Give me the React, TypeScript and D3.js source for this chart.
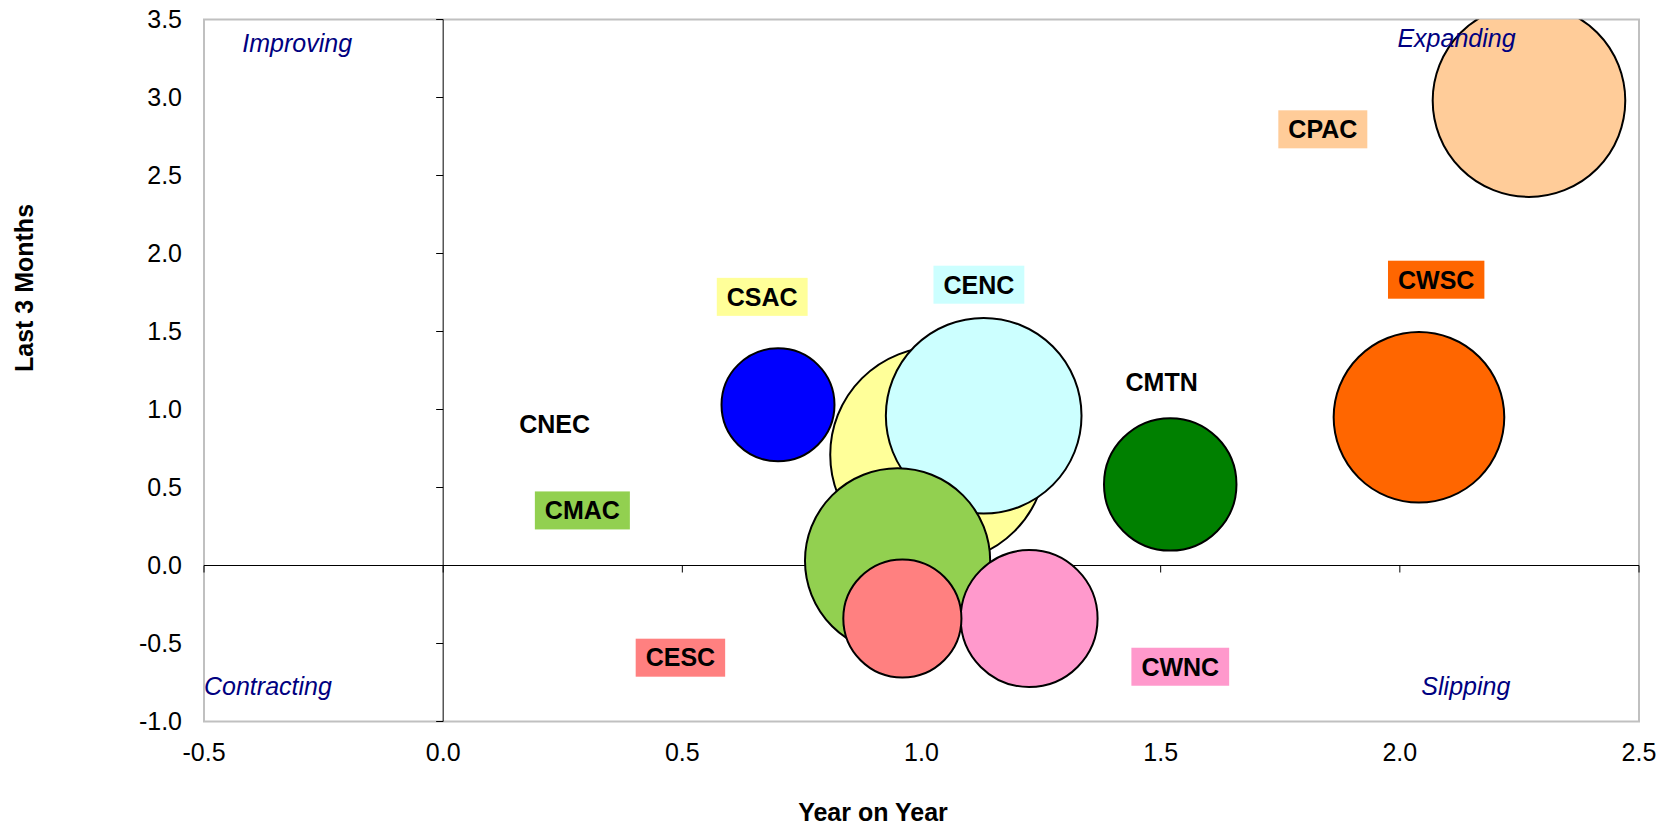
import React, { useEffect, useRef } from 'react';
import * as d3 from 'd3';

// ---- data ----
const regions = ['CNEC', 'CSAC', 'CENC', 'CMAC', 'CESC', 'CWNC', 'CPAC', 'CWSC', 'CMTN'];
const yearOnYear = [0.70, 1.035, 1.13, 0.95, 0.96, 1.225, 2.27, 2.04, 1.52];
const last3Months = [1.03, 0.71, 0.96, 0.03, -0.34, -0.34, 2.98, 0.95, 0.52];
const bubbleSize = [32, 117, 96, 86, 35, 47, 93, 73, 44];
const labelX = [0.233, 0.667, 1.12, 0.291, 0.496, 1.541, 1.839, 2.076, 1.502];
const labelY = [0.903, 1.722, 1.80, 0.353, -0.591, -0.649, 2.796, 1.832, 1.173];
const bubbleColors = ['#0000FF', '#FFFF99', '#CCFFFF', '#92D050', '#FF8080', '#FF99CC', '#FFCC99', '#FF6600', '#008000'];
const labelColors = ['none', '#FFFF99', '#CCFFFF', '#92D050', '#FF8080', '#FF99CC', '#FFCC99', '#FF6600', 'none'];
const xTicks = [-0.5, 0.0, 0.5, 1.0, 1.5, 2.0, 2.5];
const yTicks = [-1.0, -0.5, 0.0, 0.5, 1.0, 1.5, 2.0, 2.5, 3.0, 3.5];
const quadrantNames = ['Improving', 'Expanding', 'Contracting', 'Slipping'];
const quadrantX = [-0.42, 1.995, -0.5, 2.045];
const quadrantY = [3.292, 3.324, -0.83, -0.827];

const W = 1671;
const H = 826;
const FONT = '"Liberation Sans", Arial, Helvetica, sans-serif';

export default function App() {
  const ref = useRef<SVGSVGElement | null>(null);

  useEffect(() => {
    const svg = d3.select(ref.current);
    svg.selectAll('*').remove();

    const left = 204, right = 1639, top = 19.5, bottom = 721.5;
    const x = d3.scaleLinear().domain([-0.5, 2.5]).range([left, right]);
    const y = d3.scaleLinear().domain([-1, 3.5]).range([bottom, top]);
    const r = d3.scaleSqrt().domain([0, d3.max(bubbleSize) as number]).range([0, 108]);

    svg.append('rect').attr('width', W).attr('height', H).attr('fill', '#fff');

    svg.append('defs').append('clipPath').attr('id', 'plotclip')
      .append('rect').attr('x', left).attr('y', top).attr('width', right - left).attr('height', bottom - top);

    // plot border
    svg.append('rect')
      .attr('x', left).attr('y', top).attr('width', right - left).attr('height', bottom - top)
      .attr('fill', '#fff').attr('stroke', '#C0C0C0').attr('stroke-width', 2);

    // axes
    const axisG = svg.append('g');
    axisG.append('line').attr('x1', x(0)).attr('x2', x(0)).attr('y1', top).attr('y2', bottom)
      .attr('stroke', '#000').attr('stroke-width', 1);
    axisG.append('line').attr('x1', left).attr('x2', right).attr('y1', y(0)).attr('y2', y(0))
      .attr('stroke', '#000').attr('stroke-width', 1);
    yTicks.forEach(t => {
      axisG.append('line').attr('x1', x(0) - 7).attr('x2', x(0)).attr('y1', y(t)).attr('y2', y(t))
        .attr('stroke', '#000').attr('stroke-width', 1);
    });
    xTicks.forEach(t => {
      axisG.append('line').attr('x1', x(t)).attr('x2', x(t)).attr('y1', y(0)).attr('y2', y(0) + 7)
        .attr('stroke', '#000').attr('stroke-width', 1);
    });

    // bubbles (largest first)
    const idx = d3.range(regions.length).sort((a, b) => bubbleSize[b] - bubbleSize[a]);
    const bg = svg.append('g').attr('clip-path', 'url(#plotclip)');
    idx.forEach(i => {
      bg.append('circle')
        .attr('cx', x(yearOnYear[i])).attr('cy', y(last3Months[i])).attr('r', r(bubbleSize[i]))
        .attr('fill', bubbleColors[i]).attr('stroke', '#000').attr('stroke-width', 2);
    });

    // quadrant labels
    quadrantNames.forEach((q, i) => {
      svg.append('text').attr('x', x(quadrantX[i])).attr('y', y(quadrantY[i]))
        .attr('font-family', FONT).attr('font-size', 25).attr('font-style', 'italic')
        .attr('fill', '#000080').text(q);
    });

    // data labels
    regions.forEach((name, i) => {
      const cx = x(labelX[i]);
      const cy = y(labelY[i]);
      const g = svg.append('g');
      const rect = g.append('rect');
      const t = g.append('text').attr('x', cx).attr('y', cy + 8.8)
        .attr('text-anchor', 'middle').attr('font-family', FONT).attr('font-size', 25)
        .attr('font-weight', 'bold').attr('fill', '#000').text(name);
      const w = (t.node() as SVGTextElement).getComputedTextLength() + 20;
      rect.attr('x', cx - w / 2).attr('y', cy - 19).attr('width', w).attr('height', 38)
        .attr('fill', labelColors[i]);
    });

    // tick labels
    yTicks.forEach(t => {
      svg.append('text').attr('x', 182).attr('y', y(t) + 8.8).attr('text-anchor', 'end')
        .attr('font-family', FONT).attr('font-size', 25).attr('fill', '#000').text(t.toFixed(1));
    });
    xTicks.forEach(t => {
      svg.append('text').attr('x', x(t)).attr('y', 761).attr('text-anchor', 'middle')
        .attr('font-family', FONT).attr('font-size', 25).attr('fill', '#000').text(t.toFixed(1));
    });

    // axis titles
    svg.append('text').attr('x', 873).attr('y', 821).attr('text-anchor', 'middle')
      .attr('font-family', FONT).attr('font-size', 25).attr('font-weight', 'bold').text('Year on Year');
    svg.append('text').attr('transform', 'translate(32.5,288) rotate(-90)').attr('text-anchor', 'middle')
      .attr('font-family', FONT).attr('font-size', 25).attr('font-weight', 'bold').text('Last 3 Months');
  }, []);

  return (
    <svg ref={ref} width={W} height={H}
      style={{ position: 'absolute', left: 0, top: 0, display: 'block' }} />
  );
}
